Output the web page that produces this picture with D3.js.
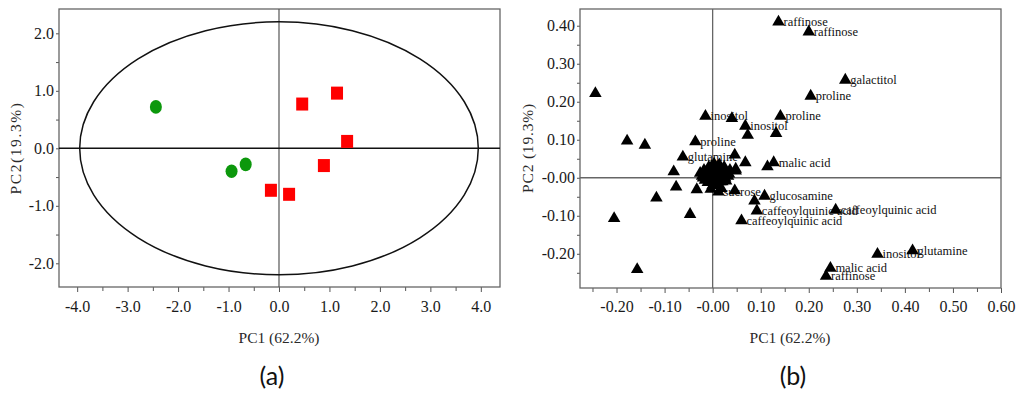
<!DOCTYPE html>
<html>
<head>
    <meta charset="utf-8">
    <title></title>
    <style type="text/css">
        html, body { margin: 0; padding: 0; background: #fff; }
    </style>
</head>
<body>
<svg id="svg" width="1024" height="399"></svg>

<script src="https://cdnjs.cloudflare.com/ajax/libs/d3/7.8.5/d3.min.js"></script>
<script type="text/javascript">
    var SERIF = '"Liberation Serif", "Times New Roman", Times, serif';

    // score plot (a)
    var greenPC1 = [-2.44, -0.94, -0.66];
    var greenPC2 = [0.72, -0.40, -0.28];
    var redPC1 = [0.46, 1.15, 1.35, 0.89, -0.16, 0.20];
    var redPC2 = [0.77, 0.96, 0.12, -0.30, -0.73, -0.80];
    var ellipseR = [3.95, 2.2];
    var scoreTicks = [-4, -3, -2, -1, 0, 1, 2, 3, 4];
    var scoreYTicks = [-2, -1, 0, 1, 2];

    // loading plot (b)
    var loadPC1 = [0.137, 0.200, 0.276, 0.204, 0.141, -0.015, 0.040, 0.068, 0.073, 0.132,
        -0.036, -0.244, -0.178, -0.141, -0.062, 0.046, 0.068, 0.048, 0.114, 0.127,
        -0.081, -0.076, -0.117, -0.033, -0.047, -0.205, -0.157, 0.046, 0.012, 0.108,
        0.087, 0.092, 0.060, 0.256, 0.343, 0.416, 0.245, 0.236,
        -0.026, -0.018, -0.008, 0.002, 0.012, 0.022, 0.030, -0.020, -0.010, 0.000,
        0.010, 0.020, 0.028, -0.010, 0.000, 0.010, 0.018, 0.003, 0.014, -0.004, 0.036, 0.032, 0.048,
        -0.022, -0.014, -0.006, 0.006, 0.016, 0.024, -0.016, -0.006, 0.004, 0.014, 0.024, 0.034,
        -0.012, -0.002, 0.008, 0.020, 0.006, 0.016, 0.026, -0.002, 0.008];
    var loadPC2 = [0.410, 0.384, 0.257, 0.215, 0.162, 0.162, 0.156, 0.136, 0.112, 0.117,
        0.095, 0.222, 0.097, 0.086, 0.055, 0.060, 0.040, 0.023, 0.029, 0.040,
        0.016, -0.024, -0.053, -0.031, -0.096, -0.107, -0.241, -0.034, -0.037, -0.048,
        -0.061, -0.087, -0.113, -0.085, -0.201, -0.192, -0.238, -0.259,
        0.012, 0.020, 0.028, 0.022, 0.030, 0.020, 0.010, 0.000, 0.010, 0.002,
        0.012, 0.000, -0.008, -0.012, -0.020, -0.018, -0.028, 0.036, 0.034, -0.030, 0.020, 0.004, 0.018,
        0.004, 0.014, 0.018, 0.016, 0.022, 0.028, -0.006, 0.004, 0.006, 0.006, 0.012, 0.010,
        -0.004, -0.010, -0.004, -0.010, -0.016, -0.010, 0.000, 0.030, 0.026];
    var loadName = ['raffinose', 'raffinose', 'galactitol', 'proline', 'proline', 'inositol', '', 'inositol', '', '',
        'proline', '', '', '', 'glutamine', '', '', '', '', 'malic acid',
        '', '', '', '', '', '', '', '', 'sucrose', 'glucosamine',
        '', 'caffeoylquinic acid', 'caffeoylquinic acid', 'caffeoylquinic acid', 'inositol', 'glutamine', 'malic acid', 'raffinose'];
    var loadXTicks = [-0.2, -0.1, 0, 0.1, 0.2, 0.3, 0.4, 0.5, 0.6];
    var loadYTicks = [-0.2, -0.1, 0, 0.1, 0.2, 0.3, 0.4];

    var svg = d3.select('#svg');

    function minor(arr, step) {
        var out = [];
        for (var i = 0; i < arr.length - 1; i++) out.push(arr[i] + step / 2);
        out.unshift(arr[0] - step / 2);
        out.push(arr[arr.length - 1] + step / 2);
        return out;
    }

    function drawAxes(g, x, y, xt, yt, xstep, ystep, fmt, xpad) {
        var inX = function (v) { return v >= x.domain()[0] && v <= x.domain()[1]; };
        var inY = function (v) { return v >= y.domain()[0] && v <= y.domain()[1]; };

        var ax = g.append('g').attr('transform', 'translate(0,' + y.range()[0] + ')');
        ax.call(d3.axisBottom(x).tickValues(minor(xt, xstep).filter(inX)).tickSize(4).tickFormat(''));
        ax.select('.domain').remove();
        var ax2 = g.append('g').attr('transform', 'translate(0,' + y.range()[0] + ')');
        ax2.call(d3.axisBottom(x).tickValues(xt).tickSize(5).tickPadding(xpad).tickFormat(fmt));
        ax2.select('.domain').remove();

        var ay = g.append('g').attr('transform', 'translate(' + x.range()[0] + ',0)');
        ay.call(d3.axisLeft(y).tickValues(minor(yt, ystep).filter(inY)).tickSize(3).tickFormat(''));
        ay.select('.domain').remove();
        var ay2 = g.append('g').attr('transform', 'translate(' + x.range()[0] + ',0)');
        ay2.call(d3.axisLeft(y).tickValues(yt).tickSize(3).tickPadding(2).tickFormat(fmt));
        ay2.select('.domain').remove();

        g.selectAll('.tick line').attr('stroke', '#555');
        g.selectAll('.tick text').style('font-size', '16px').style('font-family', SERIF).attr('fill', '#1a1a1a');

        g.append('rect')
            .attr('x', x.range()[0]).attr('y', y.range()[1])
            .attr('width', x.range()[1] - x.range()[0])
            .attr('height', y.range()[0] - y.range()[1])
            .attr('fill', 'none').attr('stroke', '#666').attr('stroke-width', 1.3);
    }

    function title(g, txt, tr, spacing) {
        g.append('text').attr('transform', tr).attr('text-anchor', 'middle')
            .style('font-family', SERIF).style('font-size', '15.5px')
            .attr('letter-spacing', spacing).attr('fill', '#2a2a2a').text(txt);
    }

    function tag(g, txt, x) {
        g.append('text').attr('x', x).attr('y', 385).attr('text-anchor', 'middle')
            .style('font-family', 'Lato, "Open Sans", sans-serif').style('font-size', '25px')
            .attr('fill', '#111').text(txt);
    }

    // ---------- panel a ----------
    var xa = d3.scaleLinear().domain([-4.36, 4.38]).range([59, 500]);
    var ya = d3.scaleLinear().domain([-2.412, 2.423]).range([287, 9]);

    var ga = svg.append('g');
    drawAxes(ga, xa, ya, scoreTicks, scoreYTicks, 1, 1, function (d) { return d.toFixed(1); }, 9);

    ga.append('line').attr('x1', xa(0)).attr('x2', xa(0)).attr('y1', ya.range()[1]).attr('y2', ya.range()[0])
        .attr('stroke', '#555').attr('stroke-width', 1.2);
    ga.append('line').attr('x1', xa.range()[0]).attr('x2', xa.range()[1]).attr('y1', ya(0)).attr('y2', ya(0))
        .attr('stroke', '#111').attr('stroke-width', 1.6);

    ga.append('ellipse')
        .attr('cx', xa(0)).attr('cy', ya(0))
        .attr('rx', xa(ellipseR[0]) - xa(0))
        .attr('ry', ya(0) - ya(ellipseR[1]))
        .attr('fill', 'none').attr('stroke', '#111').attr('stroke-width', 1.5);

    ga.selectAll('.green').data(greenPC1).enter().append('ellipse')
        .attr('cx', function (d) { return xa(d); })
        .attr('cy', function (d, i) { return ya(greenPC2[i]); })
        .attr('rx', 6).attr('ry', 6.8)
        .attr('fill', '#0c980c');

    ga.selectAll('.red').data(redPC1).enter().append('rect')
        .attr('x', function (d) { return xa(d) - 6; })
        .attr('y', function (d, i) { return ya(redPC2[i]) - 6.5; })
        .attr('width', 12).attr('height', 13)
        .attr('fill', '#ff0000');

    title(ga, 'PC1 (62.2%)', 'translate(279,343)', 0);
    title(ga, 'PC2(19.3%)', 'translate(21,148) rotate(-90)', 1.6);
    tag(ga, '(a)', 272);

    // ---------- panel b ----------
    var xb = d3.scaleLinear().domain([-0.276, 0.6]).range([580, 1001]);
    var yb = d3.scaleLinear().domain([-0.290, 0.444]).range([288, 9]);

    var gb = svg.append('g');
    drawAxes(gb, xb, yb, loadXTicks, loadYTicks, 0.1, 0.1, function (d) {
        return Math.abs(d) < 1e-9 ? '-0.00' : d.toFixed(2);
    }, 8);

    gb.append('line').attr('x1', xb(0)).attr('x2', xb(0)).attr('y1', yb.range()[1]).attr('y2', yb.range()[0])
        .attr('stroke', '#666').attr('stroke-width', 1.3);
    gb.append('line').attr('x1', xb.range()[0]).attr('x2', xb.range()[1]).attr('y1', yb(0)).attr('y2', yb(0))
        .attr('stroke', '#666').attr('stroke-width', 1.3);

    gb.selectAll('.lab').data(loadName).enter().append('text')
        .attr('x', function (d, i) { return xb(loadPC1[i]) + 5; })
        .attr('y', function (d, i) { return yb(loadPC2[i]); })
        .attr('dy', '0.32em')
        .style('font-family', SERIF).style('font-size', '12.5px')
        .attr('fill', '#111')
        .text(function (d) { return d; });

    gb.selectAll('.tri').data(loadPC1).enter().append('path')
        .attr('d', d3.symbol().type(d3.symbolTriangle).size(68))
        .attr('transform', function (d, i) { return 'translate(' + xb(d) + ',' + yb(loadPC2[i]) + ')'; })
        .attr('fill', '#000');

    title(gb, 'PC1 (62.2%)', 'translate(790,343)', 0);
    title(gb, 'PC2 (19.3%)', 'translate(533,148) rotate(-90)', 0.8);
    tag(gb, '(b)', 793);
</script>
</body>
</html>
